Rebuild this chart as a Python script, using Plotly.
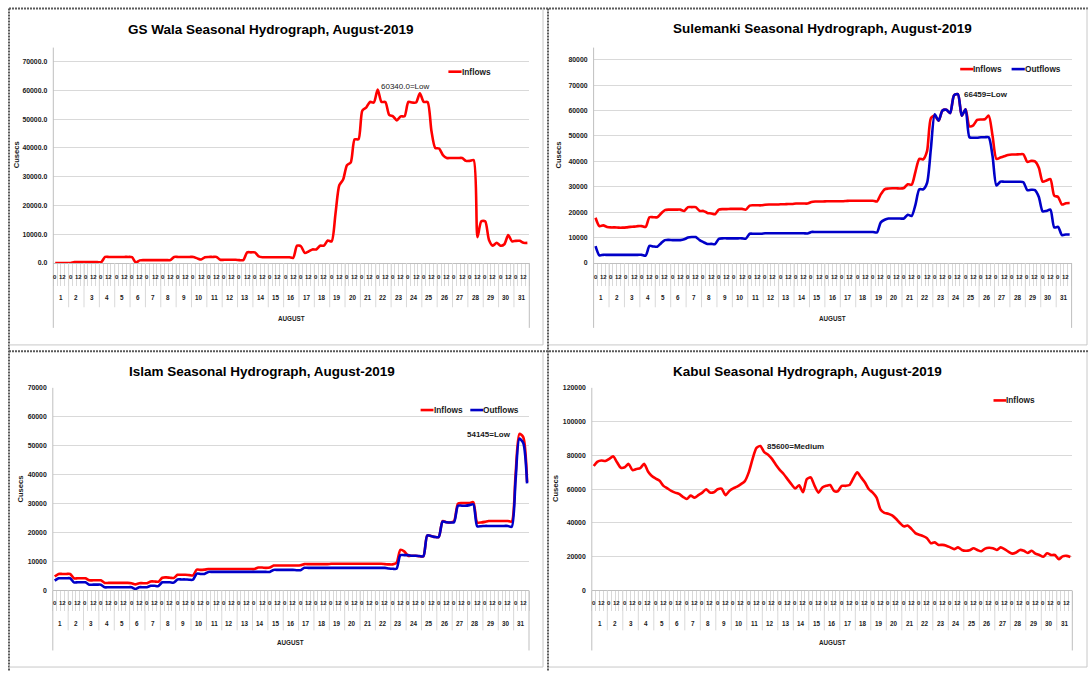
import plotly.graph_objects as go

# ---------------------------------------------------------------- data
DAYS = list(range(1, 32))
HOURS = [0, 6, 12, 18]
LABELLED_HOURS = [0, 12]
MONTH_LABEL = "AUGUST"
Y_TITLE = "Cusecs"
SERIES_NAMES = ["Inflows", "Outflows"]

# six-hourly discharge, one row per day (00, 06, 12, 18 h)
GS_WALA_INFLOWS = [
    [0, 0, 0, 0], [0, 300, 300, 300], [300, 300, 300, 300], [300, 2100, 2100, 2100],
    [2100, 2100, 2100, 2100], [2000, 150, 900, 1000], [1000, 1000, 1000, 1000],
    [1000, 1000, 1000, 2100], [2100, 2100, 2100, 2100], [2100, 1600, 1200, 2000],
    [2100, 2100, 2100, 1100], [1100, 1100, 1100, 1100], [1000, 1000, 3700, 3700],
    [3700, 2300, 2000, 2000], [2000, 2000, 2000, 2000], [2000, 2000, 1800, 6000],
    [5800, 3500, 4000, 4700], [4700, 6000, 6000, 7800], [7500, 17000, 27000, 29000],
    [34000, 35000, 43000, 43000], [53000, 54000, 56000, 55800], [60340, 56000, 56000, 51500],
    [51000, 49600, 51000, 51000], [56000, 55800, 55800, 59000], [56000, 56000, 46000, 40000],
    [39800, 37500, 36500, 36500], [36500, 36500, 36500, 35500], [35500, 35800, 9000, 14500],
    [14500, 8000, 6000, 7000], [6000, 6500, 9700, 7500], [7700, 7700, 7000, 7000],
]

SULEMANKI_INFLOWS = [
    [17800, 14500, 14800, 14200], [14000, 14000, 13900, 13900], [14000, 14200, 14300, 14500],
    [14500, 14200, 18000, 18000], [18000, 19500, 20800, 21000], [21000, 21000, 21000, 20500],
    [22000, 22000, 22000, 20500], [20500, 19700, 19500, 19200], [21000, 21200, 21200, 21300],
    [21300, 21300, 21300, 21000], [22600, 22700, 22700, 22700], [22900, 23000, 23000, 23000],
    [23100, 23100, 23200, 23200], [23400, 23400, 23400, 23400], [24000, 24200, 24200, 24200],
    [24300, 24300, 24300, 24300], [24300, 24400, 24500, 24500], [24500, 24500, 24500, 24500],
    [24500, 24200, 27000, 29000], [29300, 29400, 29400, 29300], [29500, 31000, 30800, 36000],
    [41000, 40800, 44000, 57000], [58000, 56000, 60000, 60300], [59000, 66000, 66459, 58000],
    [60500, 53800, 54200, 56300], [56500, 56600, 58000, 50000], [41000, 41500, 42000, 42500],
    [42700, 42700, 42800, 42800], [39800, 40200, 40000, 37500], [32000, 32500, 33000, 26500],
    [26000, 23000, 23500, 23600],
]

SULEMANKI_OUTFLOWS = [
    [6600, 3000, 3200, 3200], [3200, 3200, 3200, 3200], [3200, 3200, 3200, 3200],
    [3200, 2900, 6700, 6500], [6400, 7800, 9000, 9100], [9000, 9000, 9000, 9300],
    [10000, 10200, 10200, 9000], [8200, 7500, 7500, 7400], [9500, 9700, 9700, 9700],
    [9700, 9700, 9700, 9600], [11500, 11500, 11500, 11500], [11700, 11700, 11700, 11700],
    [11700, 11700, 11700, 11700], [11700, 11700, 11700, 11600], [12200, 12200, 12200, 12200],
    [12200, 12200, 12200, 12200], [12200, 12200, 12200, 12200], [12200, 12200, 12200, 12200],
    [12200, 12000, 16000, 17000], [17500, 17500, 17500, 17500], [17500, 19000, 18500, 23000],
    [29000, 29000, 31500, 45000], [58500, 56000, 60000, 60300], [59000, 66000, 66459, 58000],
    [60500, 49500, 49300, 49300], [49500, 49500, 49500, 42000], [30500, 32000, 32000, 32000],
    [32000, 32000, 32000, 31800], [28700, 28800, 28700, 26000], [20300, 20500, 21000, 14000],
    [14200, 11000, 11200, 11200],
]

ISLAM_INFLOWS = [
    [4800, 5700, 5700, 5700], [5700, 4200, 4200, 4200], [4200, 3500, 3500, 3500],
    [3500, 2600, 2600, 2600], [2600, 2600, 2600, 2600], [2500, 2100, 2500, 2500],
    [2500, 3100, 3100, 3000], [4400, 4500, 4400, 4300], [5400, 5400, 5400, 5300],
    [5200, 7200, 7100, 7200], [7400, 7400, 7400, 7400], [7400, 7400, 7400, 7400],
    [7400, 7400, 7400, 7400], [7400, 7900, 7900, 7800], [7900, 8600, 8600, 8600],
    [8600, 8600, 8600, 8600], [8700, 9100, 9100, 9100], [9100, 9100, 9100, 9100],
    [9200, 9200, 9200, 9200], [9200, 9200, 9200, 9200], [9200, 9200, 9200, 9200],
    [9200, 9200, 9100, 9000], [9000, 9500, 14000, 13500], [12000, 12000, 12000, 11800],
    [11800, 19000, 18800, 18500], [18500, 24000, 23600, 23500], [24000, 30000, 30200, 30200],
    [30200, 30500, 23500, 23500], [23700, 24000, 24000, 24000], [24000, 24000, 24000, 23800],
    [40000, 54145, 53000, 37500],
]

ISLAM_OUTFLOWS = [
    [3400, 4200, 4200, 4200], [4200, 2800, 2800, 2800], [2800, 2000, 2000, 2000],
    [2000, 1100, 1100, 1100], [1100, 1100, 1100, 1100], [1100, 500, 1100, 1100],
    [1100, 1600, 1600, 1500], [2800, 2800, 2800, 2700], [3800, 3800, 3800, 3700],
    [3700, 5800, 5700, 5700], [6400, 6400, 6400, 6400], [6400, 6400, 6400, 6400],
    [6400, 6400, 6400, 6400], [6400, 6400, 6400, 6400], [6400, 7100, 7100, 7100],
    [7100, 7100, 7100, 7000], [7000, 7800, 7800, 7800], [7800, 7800, 7800, 7800],
    [7800, 7800, 7800, 7800], [7800, 7800, 7800, 7800], [7800, 7800, 7800, 7800],
    [7800, 7800, 7800, 7600], [7500, 7500, 12200, 12200], [12200, 12000, 12000, 11900],
    [11800, 19000, 18800, 18500], [18500, 23800, 23600, 23500], [23600, 29300, 29300, 29300],
    [29500, 29800, 22200, 22200], [22300, 22300, 22300, 22300], [22300, 22300, 22300, 22000],
    [38000, 52500, 51000, 37000],
]

KABUL_INFLOWS = [
    [73800, 76400, 77000, 76700], [78000, 79500, 76000, 72700], [73000, 75000, 71300, 72000],
    [72500, 75000, 70500, 67800], [66300, 65000, 62000, 60500], [59000, 58000, 57200, 55500],
    [54200, 56200, 55000, 56500], [58000, 60000, 58000, 58200], [60000, 60300, 56500, 59000],
    [60500, 61500, 63000, 64800], [70000, 78000, 84500, 85600], [82000, 80500, 78000, 74500],
    [71500, 69000, 66000, 63000], [60500, 62300, 58200, 66000], [67000, 62000, 58000, 61000],
    [62000, 62500, 59000, 58800], [62000, 62000, 62500, 66500], [70000, 67000, 64000, 60000],
    [58000, 55000, 48000, 46000], [45500, 44500, 42500, 40000], [38000, 38500, 36500, 34000],
    [33000, 32200, 31000, 28000], [28500, 27000, 27000, 26500], [25500, 24500, 25500, 24000],
    [23500, 23800, 25000, 24000], [23200, 24800, 25300, 25000], [24000, 25500, 24500, 23000],
    [21800, 22500, 24000, 23500], [22200, 23500, 21800, 21000], [20000, 22000, 21000, 21000],
    [18500, 20200, 20500, 19800],
]

PEAK_CLASS = {"GS Wala": "Low", "Sulemanki": "Low", "Islam": "Low", "Kabul": "Medium"}

# ---------------------------------------------------------------- styling
W, H = 1089, 674
RED = "#FF0000"
BLUE = "#0000C8"
GRID = "#D9D9D9"
AXIS = "#BFBFBF"
TEXT = "#1A1A1A"
SANS = "Liberation Sans, Arial, sans-serif"

# plot boxes in pixels: left, right, top, bottom
PANELS = [
    dict(site="GS Wala", series=[GS_WALA_INFLOWS], plot=(53.3, 529.3, 45.0, 262.3),
         y_top=74900, dtick=10000, fmt=".1f", peak_fmt="{:.1f}", peak_bold=False,
         title_xy=(271, 27), ytitle_xy=(16.7, 153), legend_y=69.3,
         legend_x=[(448.4, 461.6)], peak_anchor="left", peak_shift=(1, 2.5),
         rows=(13.7, 35.0, 55.7, 22, 44.7, 65.5)),
    dict(site="Sulemanki", series=[SULEMANKI_INFLOWS, SULEMANKI_OUTFLOWS],
         plot=(593.6, 1071.6, 45.0, 262.3),
         y_top=84800, dtick=10000, fmt="d", peak_fmt="{:d}", peak_bold=True,
         title_xy=(822.5, 26), ytitle_xy=(558.9, 153), legend_y=66.7,
         legend_x=[(960.2, 973.4), (1011.6, 1024.8)], peak_anchor="left", peak_shift=(4.4, -0.7),
         rows=(13.7, 35.0, 55.7, 22, 44.7, 65.5)),
    dict(site="Islam", series=[ISLAM_INFLOWS, ISLAM_OUTFLOWS], plot=(52.8, 529.0, 388.3, 592.7),
         y_top=70050, dtick=10000, fmt="d", peak_fmt="{:d}", peak_bold=True,
         title_xy=(261.6, 371.7), ytitle_xy=(20.9, 490), legend_y=410.7,
         legend_x=[(420.6, 433.5), (470.3, 483.2)], peak_anchor="right", peak_shift=(-6, -1),
         rows=(13.0, 33.0, 52.3, 20, 40.3, 60.6)),
    dict(site="Kabul", series=[KABUL_INFLOWS], plot=(591.8, 1072.3, 388.3, 592.7),
         y_top=120100, dtick=20000, fmt="d", peak_fmt="{:d}", peak_bold=True,
         title_xy=(807.8, 371.7), ytitle_xy=(555.4, 490), legend_y=401.0,
         legend_x=[(993.5, 1006.4)], peak_anchor="left", peak_shift=(5, 0),
         rows=(13.0, 33.0, 52.3, 20, 40.3, 60.6)),
]
COLORS = [RED, BLUE]


def px(x):
    return x / W


def py(y):
    return 1 - y / H


def flatten(rows):
    return [v for day in rows for v in day]


slots = [(d, h) for d in DAYS for h in HOURS]
n_slots = len(slots)
slot_x = list(range(n_slots))

fig = go.Figure()
shapes, annotations = [], []
layout_axes = {}

for p, panel in enumerate(PANELS, 1):
    sfx = "" if p == 1 else str(p)
    xa, ya = f"x{sfx}", f"y{sfx}"
    left, right, top, bottom = panel["plot"]
    hour_off, day_off, month_off, tick_len, sep_len, outer_len = panel["rows"]

    # lines
    peak = None
    for k, rows in enumerate(panel["series"]):
        vals = flatten(rows)
        fig.add_trace(go.Scatter(
            x=slot_x, y=vals, mode="lines", name=SERIES_NAMES[k],
            line=dict(color=COLORS[k], width=2.6, shape="spline", smoothing=0.7),
            xaxis=xa, yaxis=ya, showlegend=False,
        ))
        if k == 0:
            i_max = max(range(n_slots), key=lambda i: vals[i])
            peak = (i_max, vals[i_max])

    layout_axes[f"xaxis{sfx}"] = dict(
        domain=[px(left), px(right)], anchor=ya, range=[-0.5, n_slots - 0.5],
        tickmode="array", tickvals=[i - 0.5 for i in range(n_slots + 1)],
        ticktext=[""] * (n_slots + 1), ticks="outside", ticklen=tick_len,
        tickcolor=GRID, tickwidth=1, showline=True, linecolor=AXIS, linewidth=1,
        showgrid=False, zeroline=False, fixedrange=True,
    )
    layout_axes[f"yaxis{sfx}"] = dict(
        domain=[py(bottom), py(top)], anchor=xa, range=[0, panel["y_top"]],
        tick0=0, dtick=panel["dtick"], tickformat=panel["fmt"], showgrid=True,
        gridcolor=GRID, gridwidth=1, zeroline=False, showline=False, ticks="",
        ticklabelstandoff=5,
        tickfont=dict(family=SANS, size=6.9, color=TEXT, weight="bold"),
        fixedrange=True,
    )

    # outer category-axis bounds and day separators
    shapes.append(dict(type="line", xref=f"{xa} domain", yref="paper", x0=0, x1=0,
                       y0=py(top), y1=py(bottom + outer_len), line=dict(color=AXIS, width=1)))
    shapes.append(dict(type="line", xref=f"{xa} domain", yref="paper", x0=1, x1=1,
                       y0=py(bottom), y1=py(bottom + outer_len), line=dict(color=AXIS, width=1)))
    for d in DAYS[1:]:
        b = slots.index((d, HOURS[0])) - 0.5
        shapes.append(dict(type="line", xref=xa, yref="paper", x0=b, x1=b,
                           y0=py(bottom), y1=py(bottom + sep_len), line=dict(color=GRID, width=1)))

    # hour and day labels
    for i, (d, h) in enumerate(slots):
        if h in LABELLED_HOURS:
            annotations.append(dict(x=i, y=py(bottom + hour_off), xref=xa, yref="paper",
                                    text=str(h), showarrow=False, xanchor="center", yanchor="middle",
                                    font=dict(family=SANS, size=6.0, color=TEXT, weight="bold")))
    for d in DAYS:
        idx = [i for i, s in enumerate(slots) if s[0] == d]
        annotations.append(dict(x=sum(idx) / len(idx), y=py(bottom + day_off), xref=xa, yref="paper",
                                text=str(d), showarrow=False, xanchor="center", yanchor="middle",
                                font=dict(family=SANS, size=6.3, color=TEXT, weight="bold")))
    annotations.append(dict(x=0.5, y=py(bottom + month_off), xref=f"{xa} domain", yref="paper",
                            text=MONTH_LABEL, showarrow=False, xanchor="center", yanchor="middle",
                            font=dict(family=SANS, size=6.3, color=TEXT, weight="bold")))

    # titles
    tx, ty = panel["title_xy"]
    annotations.append(dict(x=px(tx), y=py(ty), xref="paper", yref="paper",
                            text=f"{panel['site']} Seasonal Hydrograph, August-2019",
                            showarrow=False, xanchor="center", yanchor="middle",
                            font=dict(family=SANS, size=13.5, color="#000000", weight="bold")))
    cx, cy = panel["ytitle_xy"]
    annotations.append(dict(x=px(cx), y=py(cy), xref="paper", yref="paper", text=Y_TITLE,
                            textangle=-90, showarrow=False, xanchor="center", yanchor="middle",
                            font=dict(family=SANS, size=7.6, color=TEXT, weight="bold")))

    # legend
    for k, (x0, x1) in enumerate(panel["legend_x"]):
        shapes.append(dict(type="line", xref="paper", yref="paper", x0=px(x0), x1=px(x1),
                           y0=py(panel["legend_y"]), y1=py(panel["legend_y"]),
                           line=dict(color=COLORS[k], width=2.6)))
        annotations.append(dict(x=px(x1), y=py(panel["legend_y"]), xref="paper", yref="paper",
                                text=SERIES_NAMES[k], showarrow=False, xanchor="left",
                                yanchor="middle", xshift=-2,
                                font=dict(family=SANS, size=8.3, color=TEXT, weight="bold")))

    # peak label
    i_max, v_max = peak
    dx, dy = panel["peak_shift"]
    annotations.append(dict(x=i_max, y=v_max, xref=xa, yref=ya,
                            text=f"{panel['peak_fmt'].format(v_max)}={PEAK_CLASS[panel['site']]}",
                            showarrow=False, xanchor=panel["peak_anchor"], yanchor="middle",
                            xshift=dx, yshift=dy,
                            font=dict(family=SANS, size=8.0, color=TEXT,
                                      weight="bold" if panel["peak_bold"] else "normal")))

# chart-area frames: dotted top/left, light grey right/bottom
DOT = dict(color="#5A5A5A", width=2, dash="2px,1px")
FRAME = dict(color="#C8C8C8", width=1)
frame_lines = [
    ((9, 5.5), (W, 5.5), DOT), ((9, 5.5), (9, H), DOT),
    ((548, 5.5), (548, H), DOT), ((9, 351.5), (W, 351.5), DOT),
    ((543, 5.5), (543, 345), FRAME), ((9, 345), (543, 345), FRAME),
    ((1087, 5.5), (1087, 345), FRAME), ((549, 345), (1087, 345), FRAME),
    ((543, 352), (543, 670), FRAME), ((9, 670), (543, 670), FRAME),
    ((1087, 352), (1087, 670), FRAME), ((549, 670), (1087, 670), FRAME),
]
for (x0, y0), (x1, y1), style in frame_lines:
    shapes.append(dict(type="line", xref="paper", yref="paper", x0=px(x0), x1=px(x1),
                       y0=py(y0), y1=py(y1), line=style, layer="above"))

fig.update_layout(
    width=W, height=H, margin=dict(l=0, r=0, t=0, b=0),
    paper_bgcolor="white", plot_bgcolor="white", showlegend=False,
    shapes=shapes, annotations=annotations, **layout_axes,
)

fig.write_html("out.html")
